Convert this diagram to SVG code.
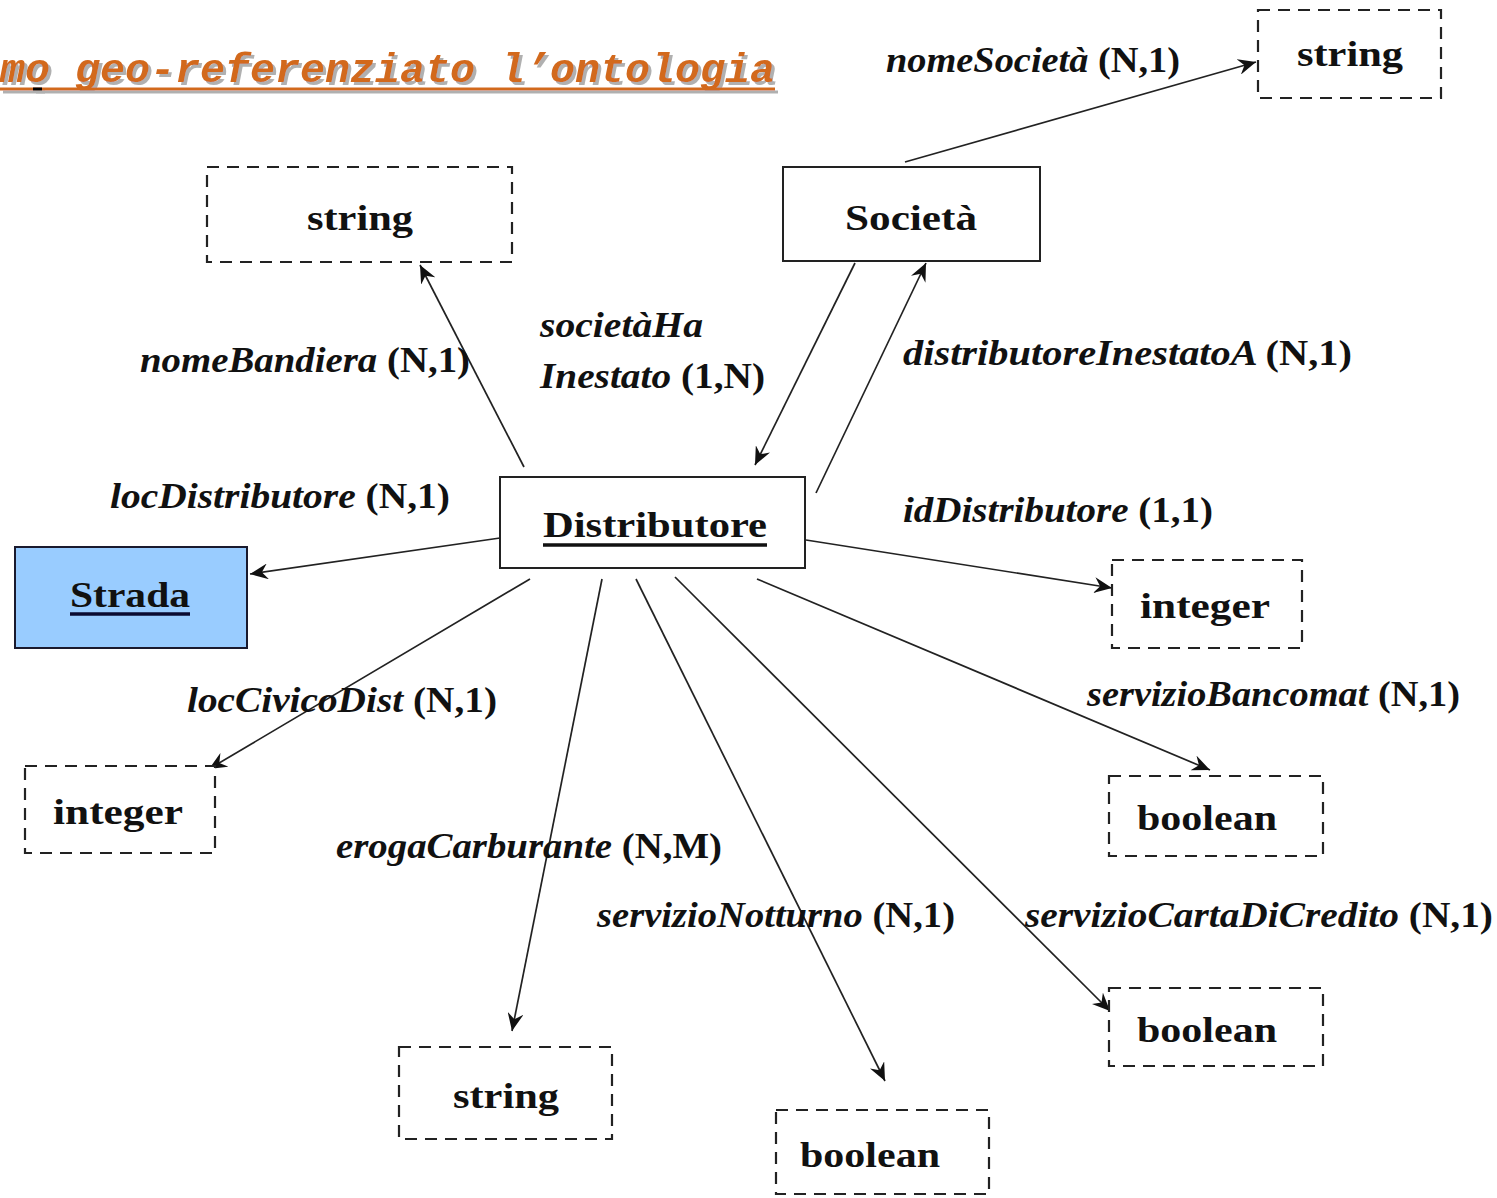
<svg xmlns="http://www.w3.org/2000/svg" width="1497" height="1198" viewBox="0 0 1497 1198">
<defs>
<marker id="ah" markerWidth="20" markerHeight="16" refX="18" refY="8" orient="auto" markerUnits="userSpaceOnUse">
<path d="M0,0 L18,8 L0,16 L6,8 Z" fill="#111"/>
</marker>
<filter id="shadow" x="-5%" y="-30%" width="110%" height="160%">
<feDropShadow dx="3" dy="3" stdDeviation="0.5" flood-color="#b0b0b0" flood-opacity="1"/>
</filter>
</defs>
<style>
.node{fill:#fff;stroke:#222;stroke-width:2}
.dash{fill:#fff;stroke:#222;stroke-width:2.2;stroke-dasharray:12,8}
.nt{font-family:"Liberation Serif",serif;font-weight:bold;font-size:36px;fill:#111;text-anchor:middle}
.lbl{font-family:"Liberation Serif",serif;font-weight:bold;font-style:italic;font-size:36px;fill:#111}
.lp{font-style:normal}
.edge{stroke:#222;stroke-width:1.7;fill:none;marker-end:url(#ah)}
.title{font-family:"Liberation Mono",monospace;font-style:italic;font-weight:bold;font-size:40px;fill:#d2691e}
</style>
<rect width="1497" height="1198" fill="#fff"/>
<g id="title" filter="url(#shadow)">
<text class="title" x="0" y="82" textLength="775" lengthAdjust="spacingAndGlyphs">mo geo-referenziato l’ontologia</text>
<line x1="0" y1="89" x2="775" y2="89" stroke="#d2691e" stroke-width="3"/>
<line x1="33" y1="89" x2="42" y2="89" stroke="#000" stroke-width="3"/>
</g>
<g id="connectors">
<line class="edge" x1="905" y1="162" x2="1256" y2="62"/>
<line class="edge" x1="855" y1="263" x2="755" y2="465"/>
<line class="edge" x1="816" y1="493" x2="926" y2="263"/>
<line class="edge" x1="524" y1="467" x2="420" y2="265"/>
<line class="edge" x1="500" y1="538" x2="250" y2="574"/>
<line class="edge" x1="530" y1="579" x2="209" y2="769"/>
<line class="edge" x1="602" y1="579" x2="512" y2="1031"/>
<line class="edge" x1="636" y1="579" x2="885" y2="1081"/>
<line class="edge" x1="675" y1="577" x2="1110" y2="1011" stroke-width="2.6"/>
<line class="edge" x1="757" y1="579" x2="1210" y2="770"/>
<line class="edge" x1="806" y1="540" x2="1112" y2="588"/>
</g>
<g id="labels">
<text class="lbl" x="886" y="72" textLength="294" lengthAdjust="spacingAndGlyphs">nomeSocietà <tspan class="lp">(N,1)</tspan></text>
<text class="lbl" x="140" y="372" textLength="330" lengthAdjust="spacingAndGlyphs">nomeBandiera <tspan class="lp">(N,1)</tspan></text>
<text class="lbl" x="540" y="337" textLength="163" lengthAdjust="spacingAndGlyphs">societàHa</text>
<text class="lbl" x="540" y="388" textLength="225" lengthAdjust="spacingAndGlyphs">Inestato <tspan class="lp">(1,N)</tspan></text>
<text class="lbl" x="903" y="365" textLength="449" lengthAdjust="spacingAndGlyphs">distributoreInestatoA  <tspan class="lp">(N,1)</tspan></text>
<text class="lbl" x="110" y="508" textLength="340" lengthAdjust="spacingAndGlyphs">locDistributore <tspan class="lp">(N,1)</tspan></text>
<text class="lbl" x="903" y="522" textLength="310" lengthAdjust="spacingAndGlyphs">idDistributore <tspan class="lp">(1,1)</tspan></text>
<text class="lbl" x="187" y="712" textLength="310" lengthAdjust="spacingAndGlyphs">locCivicoDist <tspan class="lp">(N,1)</tspan></text>
<text class="lbl" x="1087" y="706" textLength="373" lengthAdjust="spacingAndGlyphs">servizioBancomat <tspan class="lp">(N,1)</tspan></text>
<text class="lbl" x="336" y="858" textLength="386" lengthAdjust="spacingAndGlyphs">erogaCarburante <tspan class="lp">(N,M)</tspan></text>
<text class="lbl" x="597" y="927" textLength="358" lengthAdjust="spacingAndGlyphs">servizioNotturno <tspan class="lp">(N,1)</tspan></text>
<text class="lbl" x="1025" y="927" textLength="468" lengthAdjust="spacingAndGlyphs">servizioCartaDiCredito <tspan class="lp">(N,1)</tspan></text>
</g>
<g id="n-string-top">
<rect class="dash" x="1258" y="10" width="183" height="88"/>
<text class="nt" x="1350" y="66" textLength="106" lengthAdjust="spacingAndGlyphs">string</text>
</g>
<g id="n-societa">
<rect class="node" x="783" y="167" width="257" height="94"/>
<text class="nt" x="911" y="230" textLength="132" lengthAdjust="spacingAndGlyphs">Società</text>
</g>
<g id="n-string-left">
<rect class="dash" x="207" y="167" width="305" height="95"/>
<text class="nt" x="360" y="230" textLength="106" lengthAdjust="spacingAndGlyphs">string</text>
</g>
<g id="n-distributore">
<rect class="node" x="500" y="477" width="305" height="91"/>
<text class="nt" x="655" y="537" textLength="224" lengthAdjust="spacingAndGlyphs">Distributore</text>
<line x1="543" y1="545" x2="767" y2="545" stroke="#111" stroke-width="3.5"/>
</g>
<g id="n-strada">
<rect x="15" y="547" width="232" height="101" fill="#99ccff" stroke="#1a1a2e" stroke-width="2"/>
<text class="nt" x="130" y="607" textLength="120" lengthAdjust="spacingAndGlyphs" fill="#0a0a20">Strada</text>
<line x1="70" y1="614" x2="190" y2="614" stroke="#0a0a30" stroke-width="3.5"/>
</g>
<g id="n-integer-left">
<rect class="dash" x="25" y="766" width="190" height="87"/>
<text class="nt" x="118" y="824" textLength="130" lengthAdjust="spacingAndGlyphs">integer</text>
</g>
<g id="n-integer-right">
<rect class="dash" x="1112" y="560" width="190" height="88"/>
<text class="nt" x="1205" y="618" textLength="130" lengthAdjust="spacingAndGlyphs">integer</text>
</g>
<g id="n-boolean-r1">
<rect class="dash" x="1109" y="776" width="214" height="80"/>
<text class="nt" x="1207" y="830" textLength="140" lengthAdjust="spacingAndGlyphs">boolean</text>
</g>
<g id="n-boolean-r2">
<rect class="dash" x="1109" y="988" width="214" height="78"/>
<text class="nt" x="1207" y="1042" textLength="140" lengthAdjust="spacingAndGlyphs">boolean</text>
</g>
<g id="n-string-bottom">
<rect class="dash" x="399" y="1047" width="213" height="92"/>
<text class="nt" x="506" y="1108" textLength="106" lengthAdjust="spacingAndGlyphs">string</text>
</g>
<g id="n-boolean-bottom">
<rect class="dash" x="776" y="1110" width="213" height="84"/>
<text class="nt" x="870" y="1167" textLength="140" lengthAdjust="spacingAndGlyphs">boolean</text>
</g>
</svg>
